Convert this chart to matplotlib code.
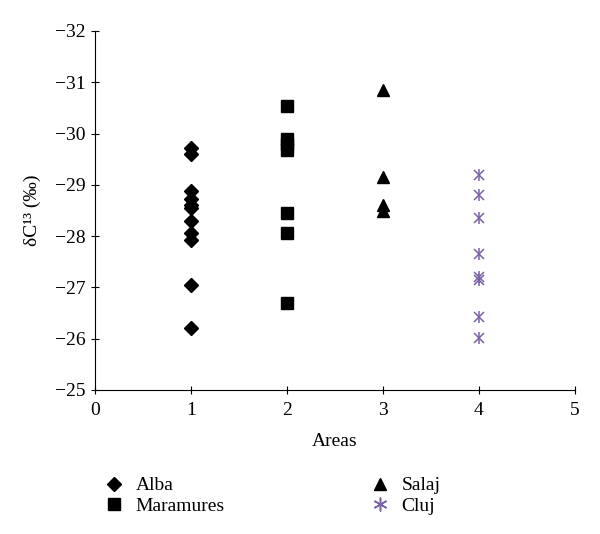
import numpy as np
import matplotlib
matplotlib.use("Agg")
import matplotlib.pyplot as plt
from matplotlib.lines import Line2D

plt.rcParams['font.family'] = ['Liberation Serif', 'DejaVu Serif']

# data (delta C13, per mil)
alba = [-29.72, -29.6, -28.88, -28.72, -28.6, -28.55, -28.3, -28.06, -27.92, -27.05, -26.2]
maramures = [-30.54, -29.9, -29.8, -29.68, -28.45, -28.06, -26.69]
salaj = [-30.84, -29.16, -28.6, -28.48]
cluj = [-29.2, -28.8, -28.35, -27.65, -27.2, -27.15, -26.42, -26.02]
area_x = [1, 2, 3, 4]
yticks = [-32, -31, -30, -29, -28, -27, -26, -25]

purple = '#7a62a8'

fig = plt.figure(figsize=(6, 5.34), dpi=100)
ax = fig.add_axes([0.158, 0.27, 0.8, 0.672])

h1, = ax.plot([area_x[0]] * len(alba), alba, 'D', color='black', ms=7, ls='none')
h2, = ax.plot([area_x[1]] * len(maramures), maramures, 's', color='black', ms=8.5, ls='none')
h3, = ax.plot([area_x[2]] * len(salaj), salaj, '^', color='black', ms=9, ls='none')
ax.plot([area_x[3]] * len(cluj), cluj, 'x', color=purple, ms=7, mew=1.1, ls='none')
ax.plot([area_x[3]] * len(cluj), cluj, '|', color=purple, ms=8, mew=1.1, ls='none')

ax.set_xlim(0, 5)
ax.set_ylim(-25, -32)
ax.set_yticks(yticks)
ax.set_xticks(range(6))
ax.spines['top'].set_visible(False)
ax.spines['right'].set_visible(False)
ax.tick_params(direction='inout', length=6, labelsize=14)
ax.tick_params(axis='x', pad=6)
ax.set_xlabel('Areas', fontsize=14, labelpad=10)
ax.set_ylabel('δC¹³ (‰)', fontsize=14, labelpad=10)

# legend: two columns below the axes
cluj_handle = Line2D([], [], marker=(6, 2, 0), color=purple, ms=10, mew=1.1, ls='none')
fig.legend([h1, h2, h3, cluj_handle], ['Alba', 'Maramures', 'Salaj', 'Cluj'],
           loc='upper left', bbox_to_anchor=(0.145, 0.14), ncol=2, frameon=False,
           fontsize=14, columnspacing=7.5, handletextpad=0.6, labelspacing=0.15,
           handlelength=1.0)

fig.savefig('out.png', dpi=100)
